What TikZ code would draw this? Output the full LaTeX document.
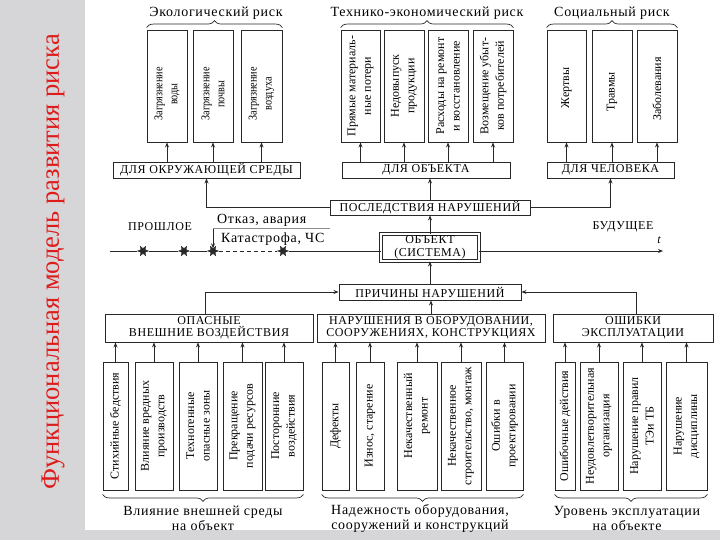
\documentclass[tikz,border=0pt]{standalone}
\usepackage{fontspec}
\setmainfont{Liberation Serif}
\newfontfamily\capsf[LetterSpace=5]{Liberation Serif}
\newfontfamily\lowf[LetterSpace=5]{Liberation Serif}
\newfontfamily\ecof[FakeStretch=0.85]{Liberation Serif}
\usetikzlibrary{arrows.meta,decorations.pathreplacing,shapes.geometric}
\definecolor{lc}{RGB}{40,40,40}
\definecolor{bggray}{RGB}{214,214,216}
\definecolor{titlered}{RGB}{222,28,28}
\newcommand\rbox[6][]{\node[bx,minimum width={(#4)-(#3)},minimum height={(#6)-(#5)},#1] (#2) at ({((#3)+(#4))/2},{((#5)+(#6))/2})}
\begin{document}
\begin{tikzpicture}[x=1pt,y=-1pt,
 bx/.style={draw=lc,line width=0.9pt,inner sep=0pt,fill=white,align=center},
 capsbox/.style={font=\capsf\fontsize{12}{12.5}\selectfont},
 capstxt/.style={font=\capsf\fontsize{12}{12.5}\selectfont,inner sep=0pt},
 lowtxt/.style={font=\lowf\fontsize{14}{15}\selectfont,inner sep=0pt,align=center},
 vtxt/.style={rotate=90,align=center,inner sep=0pt,font=\fontsize{12}{15.5}\selectfont},
 vteco/.style={rotate=90,align=center,inner sep=0pt,font=\ecof\fontsize{12}{15}\selectfont},
 arr/.style={draw=lc,line width=0.8pt,-{Stealth[length=5pt,width=4pt]}},
 lnk/.style={draw=lc,line width=0.8pt},
 gln/.style={draw=black!45,line width=1pt},
 brc/.style={draw=lc,line width=0.7pt,decorate,decoration={brace,amplitude=7pt}},
 starnode/.style={star,star points=6,star point ratio=0.45,fill=lc,draw=lc,line width=0.3pt,minimum size=5pt,inner sep=0pt}]
\useasboundingbox (0,0) rectangle (720,540);
\fill[white] (0,0) rectangle (720,540);
\fill[bggray] (0,0) rectangle (85,540);
\fill[bggray] (0,530) rectangle (720,540);
\node[rotate=90,text=titlered,font=\fontsize{26.5}{28}\selectfont,inner sep=0pt] (title) at (53,262) {Функциональная модель развития риска};

% ---------- top ----------
\node[lowtxt] (ecol) at (216,13) {Экологический риск};
\node[lowtxt] (tech) at (427,13) {Технико-экономический риск};
\node[lowtxt] (soc) at (612,13) {Социальный риск};

\rbox{E1}{147}{187}{30}{142} {};
\rbox{E2}{193}{233}{30}{142} {};
\rbox{E3}{241}{282}{30}{142} {};
\node[vteco] (E1t) at ([yshift=-8pt]E1.center) {Загрязнение\\воды};
\node[vteco] (E2t) at ([yshift=-8pt]E2.center) {Загрязнение\\почвы};
\node[vteco] (E3t) at ([yshift=-8pt]E3.center) {Загрязнение\\воздуха};

\rbox{T1}{341}{380}{30}{142} {};
\rbox{T2}{384}{424}{30}{142} {};
\rbox{T3}{428}{468}{30}{142} {};
\rbox{T4}{473}{513}{30}{142} {};
\node[vtxt] (T1t) at (T1) {Прямые материаль-\\ные потери};
\node[vtxt] (T2t) at (T2) {Недовыпуск\\продукции};
\node[vtxt] (T3t) at (T3) {Расходы на ремонт\\и восстановление};
\node[vtxt] (T4t) at (T4) {Возмещение убыт-\\ков потребителей};

\rbox{S1}{547}{586}{30}{142} {};
\rbox{S2}{592}{632}{30}{142} {};
\rbox{S3}{637}{677}{30}{142} {};
\node[vtxt] (S1t) at ([yshift=-2pt]S1.center) {Жертвы};
\node[vtxt] (S2t) at ([yshift=-6pt]S2.center) {Травмы};
\node[vtxt] (S3t) at ([yshift=-3pt]S3.center) {Заболевания};

\draw[brc] ([yshift=2pt]E1.north west) -- ([yshift=2pt]E3.north east);
\draw[brc] ([yshift=2pt]T1.north west) -- ([yshift=2pt]T4.north east);
\draw[brc] ([yshift=2pt]S1.north west) -- ([yshift=2pt]S3.north east);

\rbox[capsbox]{DO}{113}{300}{162}{178} {ДЛЯ ОКРУЖАЮЩЕЙ СРЕДЫ};
\rbox[capsbox]{DB}{342}{510}{162}{178} {ДЛЯ ОБЪЕКТА};
\rbox[capsbox]{DC}{547}{674}{162}{178} {ДЛЯ ЧЕЛОВЕКА};
\foreach \b in {E1,E2,E3} \draw[arr] (\b.south |- DO.north) -- (\b.south);
\foreach \b in {T1,T2,T3,T4} \draw[arr] (\b.south |- DB.north) -- (\b.south);
\foreach \b in {S1,S2,S3} \draw[arr] (\b.south |- DC.north) -- (\b.south);

\rbox[capsbox]{PN}{330}{530}{200}{215} {ПОСЛЕДСТВИЯ НАРУШЕНИЙ};
\draw[arr] (PN.west) -| (DO.south);
\draw[arr] (PN.east) -| (DC.south);
\draw[arr] (PN.north) -- (PN.north |- DB.south);

% ---------- object and time line ----------
\rbox[capsbox,double,double distance=1.6pt]{OB}{381}{479}{234}{261} {ОБЪЕКТ\\(СИСТЕМА)};
\draw[arr] (OB.north) -- (PN.south);

\node[capstxt] (past) at (160,227) {ПРОШЛОЕ};
\node[capstxt] (fut) at (623,227) {БУДУЩЕЕ};
\node[font=\itshape\fontsize{12}{12}\selectfont,inner sep=0pt] (tlab) at (659,240) {t};

\node[starnode] (st1) at (143,251) {};
\node[starnode] (st2) at (184,251) {};
\node[starnode] (st3) at (213,251) {};
\node[starnode] (st4) at (283,251) {};
\coordinate (tl0) at (110,251);
\coordinate (tend) at (663,251);
\draw[lnk] (tl0) -- (st1) -- (st2) -- (st3);
\draw[lnk,dash pattern=on 4pt off 3pt] (st3) -- (st4);
\draw[lnk] (st4) -- (st4 -| OB.west);
\draw[arr] (OB.east |- st4) -- (tend);

\coordinate (fa) at (213,229);
\coordinate (fb) at (330,229);
\draw[gln] (fa) -- (fb);
\draw[arr] (fa) -- (st3);
\node[lowtxt,anchor=west] (otk) at (217,220) {Отказ, авария};
\node[lowtxt,anchor=west] (kat) at (221,239) {Катастрофа, ЧС};

% ---------- causes ----------
\rbox[capsbox]{PR}{339}{521}{284}{300} {ПРИЧИНЫ НАРУШЕНИЙ};
\draw[arr] (PR.north) -- (OB.south);

\rbox[capsbox]{OV}{105}{313}{314}{342} {ОПАСНЫЕ\\ВНЕШНИЕ ВОЗДЕЙСТВИЯ};
\rbox[capsbox]{NO}{317}{545}{314}{342} {НАРУШЕНИЯ В ОБОРУДОВАНИИ,\\СООРУЖЕНИЯХ, КОНСТРУКЦИЯХ};
\rbox[capsbox]{OE}{553}{713}{314}{342} {ОШИБКИ\\ЭКСПЛУАТАЦИИ};
\draw[arr] ([xshift=-4pt]OV.north) |- (PR.west);
\draw[arr] ([xshift=3pt]OE.north) |- (PR.east);
\draw[arr] (NO.north) -- (NO.north |- PR.south);

% ---------- bottom boxes ----------
\rbox{B11}{103}{128}{362}{490} {};
\rbox{B12}{135}{173}{362}{490} {};
\rbox{B13}{179}{217}{362}{490} {};
\rbox{B14}{223}{262}{362}{490} {};
\rbox{B15}{265}{303}{362}{490} {};
\node[vtxt] (B11t) at (B11) {Стихийные бедствия};
\node[vtxt] (B12t) at (B12) {Влияние вредных\\производств};
\node[vtxt] (B13t) at (B13) {Техногенные\\опасные зоны};
\node[vtxt] (B14t) at (B14) {Прекращение\\подачи ресурсов};
\node[vtxt] (B15t) at (B15) {Посторонние\\воздействия};
\foreach \b in {B11,B12,B13,B14,B15} \draw[arr] (\b.north) -- (\b.north |- OV.south);

\rbox{B21}{322}{349}{362}{490} {};
\rbox{B22}{356}{384}{362}{490} {};
\rbox{B23}{397}{437}{362}{490} {};
\rbox{B24}{441}{481}{362}{490} {};
\rbox{B25}{486}{523}{362}{490} {};
\node[vtxt] (B21t) at (B21) {Дефекты};
\node[vtxt] (B22t) at (B22) {Износ, старение};
\node[vtxt] (B23t) at ([yshift=10pt]B23.center) {Некачественный\\ремонт};
\node[vtxt] (B24t) at (B24) {Некачественное\\строительство, монтаж};
\node[vtxt] (B25t) at (B25) {Ошибки в\\проектировании};
\foreach \b in {B21,B22,B23,B24,B25} \draw[arr] (\b.north) -- (\b.north |- NO.south);

\rbox{B31}{555}{575}{362}{490} {};
\rbox{B32}{580}{618}{362}{490} {};
\rbox{B33}{623}{661}{362}{490} {};
\rbox{B34}{666}{707}{362}{490} {};
\node[vtxt] (B31t) at (B31) {Ошибочные действия};
\node[vtxt] (B32t) at (B32) {Неудовлетворительная\\организация};
\node[vtxt] (B33t) at (B33) {Нарушение правил\\ТЭи ТБ};
\node[vtxt] (B34t) at (B34) {Нарушение\\дисциплины};
\foreach \b in {B31,B32,B33,B34} \draw[arr] (\b.north) -- (\b.north |- OE.south);

\draw[brc] ([yshift=-4pt]B15.south east) -- ([yshift=-4pt]B11.south west);
\draw[brc] ([yshift=-4pt]B25.south east) -- ([yshift=-4pt]B21.south west);
\draw[brc] ([yshift=-4pt]B34.south east) -- ([yshift=-4pt]B31.south west);

\node[lowtxt] (L1) at (203,518) {Влияние внешней среды\\на объект};
\node[lowtxt] (L2) at (420,518) {Надежность оборудования,\\сооружений и конструкций};
\node[lowtxt] (L3) at (627,518) {Уровень эксплуатации\\на объекте};
\end{tikzpicture}
\end{document}
